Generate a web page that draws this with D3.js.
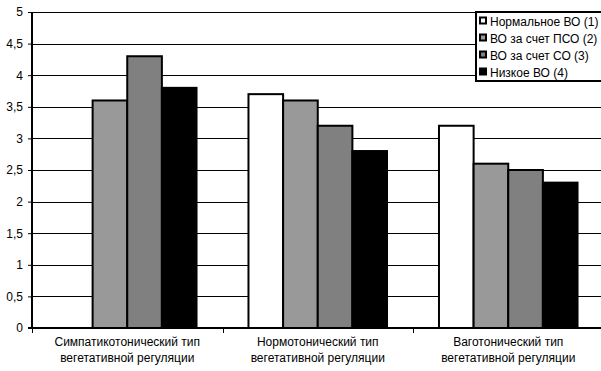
<!DOCTYPE html>
<html>
<head>
<meta charset="utf-8">
<script src="https://cdn.jsdelivr.net/npm/d3@7"></script>
<style>
  html, body { margin: 0; padding: 0; background: #fff; }
  svg { display: block; font-family: "Liberation Sans", Arial, sans-serif; }
</style>
</head>
<body>
<svg id="chart" width="601" height="371"></svg>
<script>
// Regulation types (two-line labels)
const categories = [
  ["Симпатикотонический тип", "вегетативной регуляции"],
  ["Нормотонический тип", "вегетативной регуляции"],
  ["Ваготонический тип", "вегетативной регуляции"]
];
const seriesNames = ["Нормальное ВО (1)", "ВО за счет ПСО (2)", "ВО за счет СО (3)", "Низкое ВО (4)"];
const seriesColors = ["#ffffff", "#999999", "#808080", "#000000"];
// values[series][category]; null = no bar
const normalVO = [null, 3.7, 3.2];
const psoVO    = [3.6, 3.6, 2.6];
const soVO     = [4.3, 3.2, 2.5];
const lowVO    = [3.8, 2.8, 2.3];
const values = [normalVO, psoVO, soVO, lowVO];
const yTicks = [0, 0.5, 1, 1.5, 2, 2.5, 3, 3.5, 4, 4.5, 5];

const svg = d3.select("#chart");
const plotLeft = 32, plotTop = 12, plotBottom = 328, plotRight = 603.5;
const fontSize = 12;

const x0 = d3.scaleBand().domain(d3.range(categories.length)).range([plotLeft, plotRight]).padding(0);
const x1 = d3.scaleBand().domain(d3.range(seriesNames.length))
  .range([0, x0.bandwidth()]).paddingInner(0).paddingOuter(0.75);
const y = d3.scaleLinear().domain([0, 5]).range([plotBottom, plotTop]);

// gridlines
svg.append("g").selectAll("line").data(yTicks.filter(d => d > 0)).join("line")
  .attr("x1", plotLeft).attr("x2", plotRight)
  .attr("y1", d => Math.round(y(d)) + 0.5).attr("y2", d => Math.round(y(d)) + 0.5)
  .attr("stroke", "#000").attr("stroke-width", 1);

// bars
const groups = svg.append("g").selectAll("g").data(categories).join("g")
  .attr("transform", (d, i) => `translate(${x0(i)},0)`);
groups.selectAll("rect")
  .data((d, ci) => values.map((s, si) => ({ si, v: s[ci] })).filter(d => d.v != null))
  .join("rect")
  .attr("x", d => x1(d.si))
  .attr("width", x1.bandwidth())
  .attr("y", d => y(d.v))
  .attr("height", d => y(0) - y(d.v))
  .attr("fill", d => seriesColors[d.si])
  .attr("stroke", "#000").attr("stroke-width", 2);

// y axis
const yAxis = d3.axisLeft(y).tickValues(yTicks).tickSize(4).tickPadding(5)
  .tickFormat(d => String(d).replace(".", ","));
const ya = svg.append("g").attr("transform", `translate(${plotLeft},0)`).call(yAxis);
ya.select(".domain").remove();
ya.selectAll("text").attr("font-size", fontSize).attr("fill", "#000")
  .attr("font-family", "Liberation Sans, Arial, sans-serif");
ya.selectAll("line").attr("stroke", "#000");
svg.append("line").attr("x1", plotLeft).attr("x2", plotLeft).attr("y1", plotTop).attr("y2", plotBottom + 1)
  .attr("stroke", "#000").attr("stroke-width", 2);

// x axis
svg.append("line").attr("x1", plotLeft - 4).attr("x2", plotRight).attr("y1", plotBottom).attr("y2", plotBottom)
  .attr("stroke", "#000").attr("stroke-width", 2);
svg.append("g").selectAll("line").data(d3.range(categories.length + 1)).join("line")
  .attr("x1", i => Math.round(plotLeft + i * x0.bandwidth()) + 0.5)
  .attr("x2", i => Math.round(plotLeft + i * x0.bandwidth()) + 0.5)
  .attr("y1", plotBottom).attr("y2", plotBottom + 5).attr("stroke", "#000");

const labels = svg.append("g").selectAll("text").data(categories).join("text")
  .attr("text-anchor", "middle").attr("font-size", fontSize).attr("fill", "#000");
labels.selectAll("tspan").data((d, i) => d.map(t => ({ t, i }))).join("tspan")
  .attr("x", d => x0(d.i) + x0.bandwidth() / 2)
  .attr("y", (d, j) => 345.5 + j * 16)
  .text(d => d.t);

// legend
const lg = svg.append("g");
lg.append("rect").attr("x", 476).attr("y", 12).attr("width", 130).attr("height", 69)
  .attr("fill", "#fff").attr("stroke", "#000").attr("stroke-width", 2);
const items = lg.selectAll("g").data(seriesNames).join("g")
  .attr("transform", (d, i) => `translate(0,${21 + i * 17})`);
items.append("rect").attr("x", 480).attr("y", -3.5).attr("width", 6).attr("height", 6)
  .attr("fill", (d, i) => seriesColors[i]).attr("stroke", "#000").attr("stroke-width", 2);
items.append("text").attr("x", 490).attr("y", 4.5).attr("font-size", fontSize).attr("fill", "#000").text(d => d);
</script>
</body>
</html>
